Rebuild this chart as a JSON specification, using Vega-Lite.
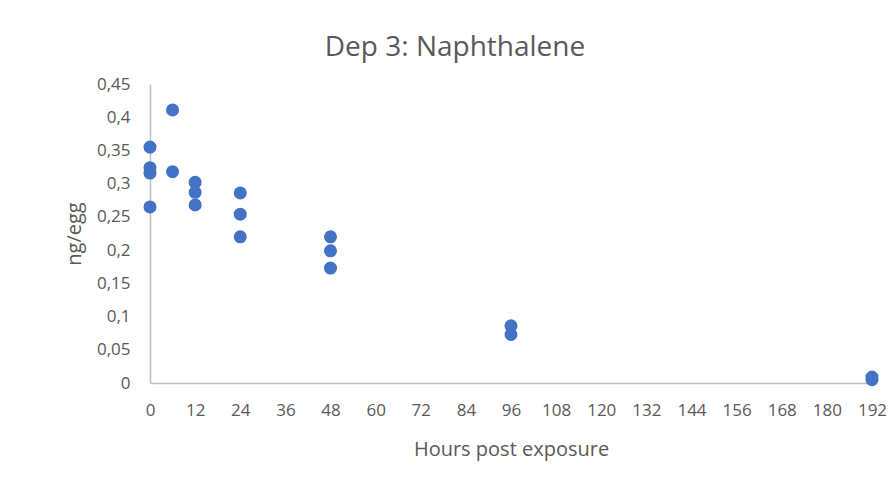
{
  "$schema": "https://vega.github.io/schema/vega-lite/v6.json",
  "width": 722,
  "height": 299,
  "autosize": "none",
  "padding": {"left": 150, "top": 84, "right": 22, "bottom": 102},
  "background": "white",
  "config": {"view": {"stroke": null}, "font": "Open Sans"},
  "title": {
    "text": "Dep 3: Naphthalene",
    "fontSize": 28,
    "fontWeight": "normal",
    "color": "#595959",
    "font": "Open Sans",
    "anchor": "middle",
    "dx": -56,
    "offset": 13
  },
  "data": {
    "values": [
      {"h": 0, "v": 0.355},
      {"h": 0, "v": 0.324},
      {"h": 0, "v": 0.316},
      {"h": 0, "v": 0.265},
      {"h": 6, "v": 0.411},
      {"h": 6, "v": 0.318},
      {"h": 12, "v": 0.302},
      {"h": 12, "v": 0.287},
      {"h": 12, "v": 0.268},
      {"h": 24, "v": 0.286},
      {"h": 24, "v": 0.254},
      {"h": 24, "v": 0.220},
      {"h": 48, "v": 0.220},
      {"h": 48, "v": 0.199},
      {"h": 48, "v": 0.173},
      {"h": 96, "v": 0.086},
      {"h": 96, "v": 0.073},
      {"h": 192, "v": 0.009},
      {"h": 192, "v": 0.005}
    ]
  },
  "mark": {"type": "circle", "size": 170, "opacity": 1, "color": "#4472C4"},
  "encoding": {
    "x": {
      "field": "h",
      "type": "quantitative",
      "scale": {"domain": [0, 192], "nice": false, "zero": true},
      "axis": {
        "values": [0,12,24,36,48,60,72,84,96,108,120,132,144,156,168,180,192],
        "title": "Hours post exposure",
        "titleFontSize": 20,
        "titleFontWeight": "normal",
        "titleColor": "#595959",
        "titlePadding": 21,
        "labelFontSize": 17,
        "labelColor": "#595959",
        "labelPadding": 19,
        "labelFlush": false,
        "labelBound": false,
        "labelOverlap": false,
        "ticks": false,
        "grid": false,
        "domainColor": "#BFBFBF",
        "domainWidth": 1.5
      }
    },
    "y": {
      "field": "v",
      "type": "quantitative",
      "scale": {"domain": [0, 0.45], "nice": false},
      "axis": {
        "values": [0,0.05,0.1,0.15,0.2,0.25,0.3,0.35,0.4,0.45],
        "labelExpr": "replace(format(datum.value, '.2~f'), '.', ',')",
        "title": "ng/egg",
        "titleFontSize": 20,
        "titleFontWeight": "normal",
        "titleColor": "#595959",
        "titlePadding": 12,
        "labelFontSize": 17,
        "labelColor": "#595959",
        "labelPadding": 20,
        "labelFlush": false,
        "labelOverlap": false,
        "ticks": false,
        "grid": false,
        "domainColor": "#BFBFBF",
        "domainWidth": 1.5
      }
    }
  }
}
